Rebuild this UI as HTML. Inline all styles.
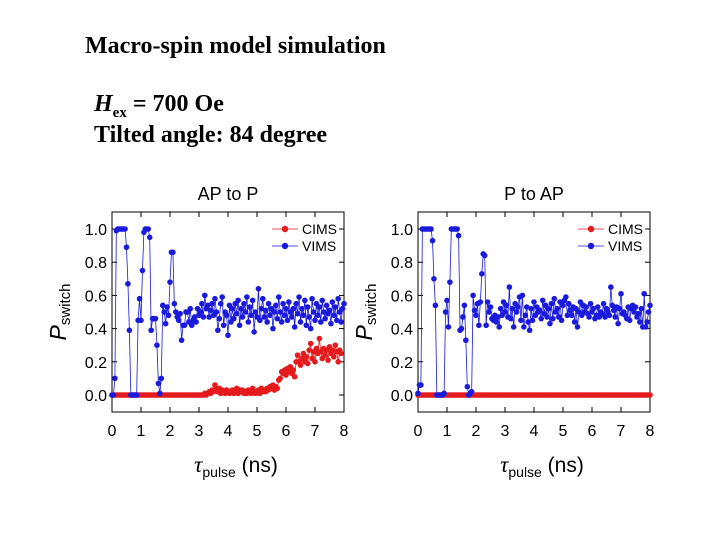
<!DOCTYPE html>
<html><head><meta charset="utf-8"><style>
body{margin:0;width:720px;height:540px;background:#fff;overflow:hidden;position:relative;font-family:"Liberation Serif",serif}
.t{position:absolute;font-weight:bold;font-size:24px;color:#000;white-space:nowrap}
</style></head><body>
<div class="t" style="left:85px;top:33px">Macro-spin model simulation</div>
<div class="t" style="left:94px;top:91px"><i>H</i><sub style="font-size:15px">ex</sub> = 700 Oe</div>
<div class="t" style="left:94px;top:122px">Tilted angle: 84 degree</div>
<svg id="svg" width="720" height="540" style="position:absolute;left:0;top:0"></svg>
<script>
const step = 0.05;
const xTicks = [0,1,2,3,4,5,6,7,8];
const yTicks = [0.0,0.2,0.4,0.6,0.8,1.0];
const yTickLabels = ["0.0","0.2","0.4","0.6","0.8","1.0"];
const leftVims = [0,0,0.1,0.99,1,1,1,1,1,1,0.89,0.67,0.39,0,0,0,0,0,0.45,0.58,0.45,0.75,0.98,1,1,1,0.95,0.39,0.46,0.46,0.46,0.3,0.07,0.01,0.1,0.54,0.5,0.43,0.53,0.48,0.68,0.86,0.86,0.55,0.5,0.47,0.45,0.49,0.33,0.42,
0.42,0.5,0.5,0.44,0.52,0.42,0.45,0.47,0.44,0.52,0.48,0.5,0.55,0.47,0.6,0.52,0.54,0.47,0.51,0.55,0.48,0.58,0.5,0.39,0.46,0.55,0.59,0.42,0.5,0.48,0.36,0.54,0.44,0.52,0.46,0.55,0.49,0.57,0.42,0.52,0.47,0.55,0.5,0.59,0.44,0.53,0.48,0.57,0.38,0.5,0.47,0.64,0.45,0.52,0.58,0.47,0.51,0.44,0.55,0.48,0.52,0.4,0.5,0.54,0.46,0.59,0.5,0.44,0.55,0.48,0.52,0.45,0.56,0.5,0.47,0.52,0.41,0.55,0.49,0.59,0.44,0.52,0.48,0.57,0.42,0.53,0.47,0.4,0.58,0.5,0.45,0.55,0.48,0.53,0.44,0.57,0.5,0.46,0.54,0.49,0.51,0.43,0.56,0.48,0.53,0.45,0.58,0.5,0.44,0.52,0.55];
const leftCims = [0,0,0,0,0,0,0,0,0,0,0,0,0,0,0,0,0,0,0,0,0,0,0,0,0,0,0,0,0,0,0,0,0,0,0,0,0,0,0,0,0,0,0,0,0,0,0,0,0,0,0,0,0,0,0,0,0,0,0,0,0,0,0,0,0.01,0,0.01,0.02,0.01,0.03,0.02,0.06,0.03,0.02,0.04,0.01,0.03,0.02,0.01,0.03,0.02,0.01,0.02,0.03,0.01,0.02,0.04,0.01,0.03,0.02,0.03,0.01,0.02,0.01,0.03,0.02,0.01,0.04,0.02,0.01,0.02,0.03,0.01,0.04,0.02,0.03,0.02,0.04,0.03,0.05,0.04,0.06,0.03,0.05,0.04,0.09,0.1,0.14,0.13,0.15,0.12,0.16,0.14,0.17,0.13,0.15,0.11,0.2,0.24,0.2,0.18,0.22,0.25,0.2,0.23,0.19,0.27,0.31,0.22,0.26,0.2,0.28,0.25,0.34,0.26,0.22,0.28,0.24,0.27,0.21,0.29,0.25,0.27,0.23,0.3,0.26,0.2,0.27,0.25];
const rightVims = [0.01,0.06,0.06,1,1,1,1,1,1,1,0.93,0.7,0.54,0,0,0,0,0,0.01,0.5,0.57,0.41,0.68,1,1,1,1,1,0.96,0.39,0.4,0.47,0.54,0.33,0.05,0,0.01,0.02,0.6,0.51,0.48,0.55,0.42,0.56,0.73,0.85,0.84,0.42,0.56,0.5,
0.53,0.46,0.45,0.48,0.44,0.47,0.41,0.52,0.48,0.56,0.5,0.54,0.47,0.65,0.46,0.52,0.41,0.55,0.5,0.53,0.59,0.45,0.6,0.41,0.48,0.53,0.44,0.39,0.52,0.45,0.56,0.48,0.53,0.5,0.51,0.46,0.57,0.49,0.54,0.47,0.52,0.43,0.55,0.46,0.58,0.5,0.52,0.47,0.56,0.45,0.54,0.57,0.59,0.48,0.55,0.51,0.48,0.53,0.44,0.52,0.41,0.5,0.56,0.48,0.54,0.5,0.53,0.49,0.47,0.55,0.5,0.52,0.46,0.48,0.53,0.47,0.5,0.49,0.55,0.47,0.52,0.5,0.48,0.65,0.54,0.51,0.47,0.53,0.43,0.52,0.61,0.49,0.5,0.48,0.46,0.53,0.45,0.52,0.54,0.5,0.53,0.47,0.49,0.44,0.52,0.41,0.61,0.41,0.44,0.5,0.54,0.48];
const rightCims = new Array(161).fill(0);
const svg = document.getElementById('svg');
const NS = 'http://www.w3.org/2000/svg';
function mk(tag, attrs, parent){const e=document.createElementNS(NS,tag);for(const k in attrs)e.setAttribute(k,attrs[k]);(parent||svg).appendChild(e);return e;}
function panel(name, x0, x1, title, cims, vims, legX){
  const yTop=212, yBot=412;
  const sx=v=>x0+(x1-x0)*v/8;
  const sy=v=>395-166*v;
  const g=mk('g',{});
  
  
  const fr=mk('rect',{x:x0,y:yTop,width:x1-x0,height:yBot-yTop,fill:'none',stroke:'#000','stroke-width':1},g);
  
  
  const tt=mk('text',{x:(x0+x1)/2,y:200,'text-anchor':'middle','font-family':'Liberation Sans, sans-serif','font-size':18},g);
  tt.textContent=title;
  
  
  xTicks.forEach(v=>{
    mk('line',{x1:sx(v),x2:sx(v),y1:yBot,y2:yBot-5,stroke:'#000'},g);
    mk('line',{x1:sx(v),x2:sx(v),y1:yTop,y2:yTop+5,stroke:'#000'},g);
    const t=mk('text',{x:sx(v),y:436,'text-anchor':'middle','font-family':'Liberation Sans, sans-serif','font-size':16},g);
    t.textContent=String(v);
    
    
  });
  yTicks.forEach((v,i)=>{
    mk('line',{x1:x0,x2:x0+5,y1:sy(v),y2:sy(v),stroke:'#000'},g);
    mk('line',{x1:x1,x2:x1-5,y1:sy(v),y2:sy(v),stroke:'#000'},g);
    const t=mk('text',{x:x0-5,y:sy(v)+6,'text-anchor':'end','font-family':'Liberation Sans, sans-serif','font-size':16},g);
    t.textContent=yTickLabels[i];
    
    
  });
  const yl=mk('text',{transform:`translate(${x0-46},${312}) rotate(-90)`,'text-anchor':'middle','font-family':'Liberation Sans, sans-serif','font-size':23},g);
  yl.innerHTML='<tspan font-style="italic">P</tspan><tspan font-size="15" dy="4">switch</tspan>';
  
  
  const xl=mk('text',{x:(x0+x1)/2+8,y:472,'text-anchor':'middle','font-family':'Liberation Sans, sans-serif','font-size':21},g);
  xl.innerHTML='<tspan font-family="Liberation Serif, serif" font-style="italic" font-size="23">τ</tspan><tspan font-size="14" dy="5">pulse</tspan><tspan dy="-5"> (ns)</tspan>';
  
  
  [[cims,'#e41a1c','cims-series'],[vims,'#1a1adc','vims-series']].forEach(([arr,col,nm])=>{
    const sg=mk('g',{},g);
    
    
    const pts=[];
    arr.forEach((v,i)=>{const x=i*step;if(x<=8.001)pts.push([sx(x),sy(v)]);});
    mk('polyline',{points:pts.map(p=>p.join(',')).join(' '),fill:'none',stroke:col,'stroke-width':0.8},sg);
    pts.forEach(p=>{const c=mk('circle',{cx:p[0],cy:p[1],r:2.8,fill:col},sg);
      
      });
  });
  [['CIMS','#e41a1c',229],['VIMS','#1a1adc',246]].forEach(([lab,col,y])=>{
    const lg=mk('g',{},g);
    
    
    mk('line',{x1:legX,x2:legX+26,y1:y,y2:y,stroke:col,'stroke-width':0.8},lg);
    mk('circle',{cx:legX+13,cy:y,r:3.2,fill:col},lg);
    const t=mk('text',{x:legX+30,y:y+5,'font-family':'Liberation Sans, sans-serif','font-size':14},lg);
    t.textContent=lab;
  });
}
panel('chart-ap-to-p',112,344,'AP to P',leftCims,leftVims,272);
panel('chart-p-to-ap',418,650,'P to AP',rightCims,rightVims,578);
</script>
</body></html>
